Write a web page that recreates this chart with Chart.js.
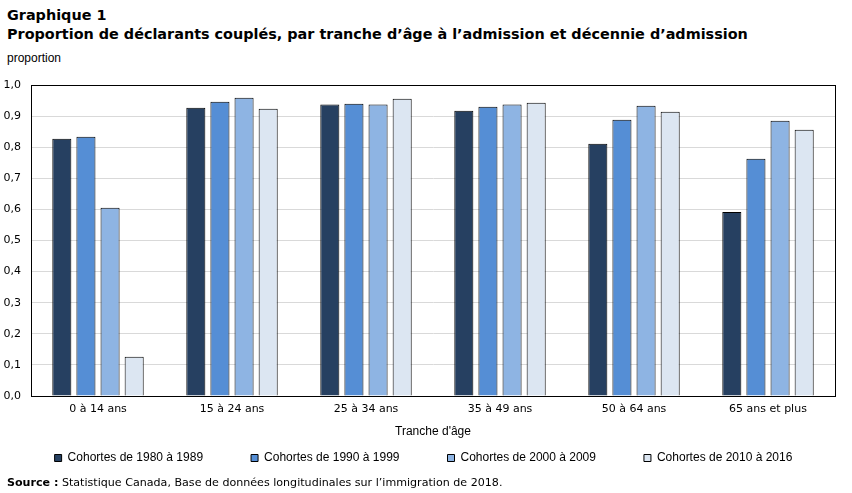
<!DOCTYPE html>
<html>
<head>
<meta charset="utf-8">
<script src="https://cdn.jsdelivr.net/npm/chart.js@4.4.0/dist/chart.umd.min.js"></script>
<style>
  body { margin: 0; background: #fff; }
  #wrap { position: relative; width: 852px; height: 493px; overflow: hidden; }
  #title { position: absolute; left: 7px; top: 6px; font-family: "DejaVu Sans", Verdana, sans-serif; font-weight: bold; font-size: 14.4px; line-height: 19px; color: #000; white-space: nowrap; }
  #unit { position: absolute; left: 7px; top: 51px; font-family: "Liberation Sans", Arial, sans-serif; font-size: 12px; color: #000; }
  #source { position: absolute; left: 7px; top: 476px; font-family: "DejaVu Sans", Verdana, sans-serif; font-size: 11.1px; color: #000; white-space: nowrap; }
  #chartBox { position: absolute; left: 0; top: 0; width: 852px; height: 509px; }
</style>
</head>
<body>
<div id="wrap">
  <div id="title">Graphique 1<br>Proportion de déclarants couplés, par tranche d’âge à l’admission et décennie d’admission</div>
  <div id="unit">proportion</div>
  <div id="chartBox"><canvas id="c"></canvas></div>
  <div id="source"><b>Source :</b> Statistique Canada, Base de données longitudinales sur l’immigration de 2018.</div>
</div>
<script>
const categories = ['0 à 14 ans', '15 à 24 ans', '25 à 34 ans', '35 à 49 ans', '50 à 64 ans', '65 ans et plus'];
const seriesNames = ['Cohortes de 1980 à 1989', 'Cohortes de 1990 à 1999', 'Cohortes de 2000 à 2009', 'Cohortes de 2010 à 2016'];
const cohort1980 = [0.827, 0.927, 0.937, 0.917, 0.811, 0.592];
const cohort1990 = [0.834, 0.946, 0.940, 0.930, 0.888, 0.763];
const cohort2000 = [0.605, 0.959, 0.937, 0.937, 0.933, 0.885];
const cohort2010 = [0.126, 0.924, 0.956, 0.943, 0.914, 0.856];
const colors = ['#264061', '#558ed5', '#8eb4e3', '#dce6f2'];

const values = [cohort1980, cohort1990, cohort2000, cohort2010];

// black frame round the plot area
const frame = {
    id: 'frame',
    afterDraw(chart) {
        const a = chart.chartArea;
        const ctx = chart.ctx;
        ctx.save();
        ctx.strokeStyle = '#000';
        ctx.lineWidth = 1;
        ctx.strokeRect(Math.round(a.left) + 0.5, Math.round(a.top) + 0.5, Math.round(a.right - a.left), Math.round(a.bottom - a.top));
        ctx.restore();
    }
};

// legend needs wide item spacing (big padding), so pull it back up after layout
const legendSpot = {
    id: 'legendSpot',
    afterLayout(chart) {
        const lg = chart.legend;
        const dy = 404 - lg.top;
        lg.top += dy; lg.bottom += dy;
        lg.left += 6; lg.right += 6;
    }
};

new Chart(document.getElementById('c'), {
    type: 'bar',
    data: {
        labels: categories,
        datasets: seriesNames.map((name, i) => ({
            label: name,
            data: values[i],
            backgroundColor: colors[i],
            borderColor: '#000',
            borderWidth: 1,
            categoryPercentage: 0.72,
            barPercentage: 0.79
        }))
    },
    options: {
        responsive: true,
        maintainAspectRatio: false,
        animation: false,
        layout: { padding: { top: 85, right: 17, left: 0, bottom: 0 } },
        plugins: {
            tooltip: { enabled: false },
            legend: {
                position: 'bottom',
                labels: {
                    boxWidth: 7,
                    boxHeight: 7,
                    padding: 48,
                    color: '#000',
                    font: { family: 'Liberation Sans', size: 12 }
                }
            }
        },
        scales: {
            x: {
                afterFit: s => { s.height = 43; },
                grid: { display: false, drawTicks: false },
                border: { color: '#000' },
                ticks: { color: '#000', font: { family: 'DejaVu Sans', size: 11 }, padding: 7 },
                title: { display: true, text: 'Tranche d\'âge', color: '#000', font: { family: 'Liberation Sans', size: 12 }, padding: 0 }
            },
            y: {
                min: 0,
                max: 1,
                afterFit: s => { s.width = 31; },
                grid: { color: '#d9d9d9', drawTicks: false },
                border: { color: '#000' },
                ticks: {
                    stepSize: 0.1,
                    color: '#000',
                    padding: 10,
                    font: { family: 'DejaVu Sans', size: 11 },
                    callback: v => v.toFixed(1).replace('.', ',')
                }
            }
        }
    },
    plugins: [frame, legendSpot]
});
</script>
</body>
</html>
